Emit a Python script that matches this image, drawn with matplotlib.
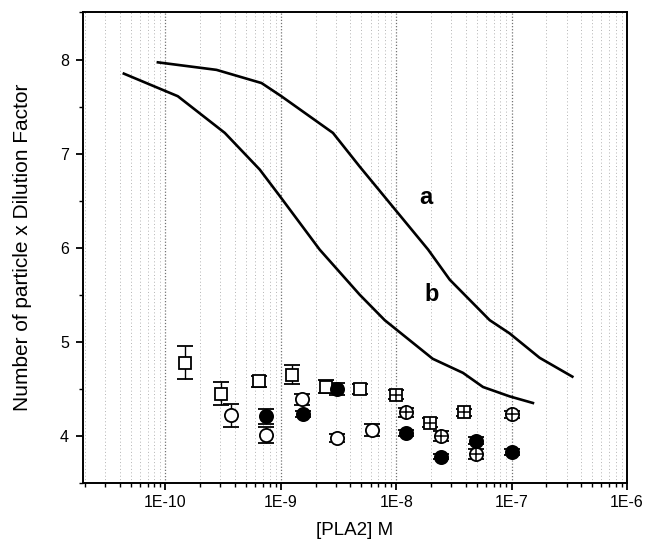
import numpy as np
import matplotlib
matplotlib.use("Agg")
import matplotlib.pyplot as plt
from matplotlib.ticker import FixedLocator, LogLocator, NullFormatter


# curve a / curve b (model lines)
curve_a_x = [8.6e-11, 2.77e-10, 6.8e-10, 1.01e-9, 2.83e-9, 4.84e-9, 1.89e-8,
             2.91e-8, 6.46e-8, 9.6e-8, 1.75e-7, 3.36e-7]
curve_a_y = [7.97, 7.89, 7.75, 7.61, 7.22, 6.86, 5.98, 5.66, 5.23, 5.09, 4.83, 4.63]

curve_b_x = [4.36e-11, 1.28e-10, 3.27e-10, 6.57e-10, 9.78e-10, 2.17e-9, 4.83e-9,
             7.95e-9, 2.07e-8, 3.79e-8, 5.65e-8, 9.63e-8, 1.53e-7]
curve_b_y = [7.85, 7.61, 7.22, 6.83, 6.55, 5.98, 5.50, 5.23, 4.82, 4.67, 4.52, 4.42, 4.35]

# measured points
sq_x = [1.47e-10, 3.05e-10, 6.44e-10, 1.24e-9, 2.48e-9, 4.9e-9]
sq_y = [4.78, 4.45, 4.58, 4.65, 4.525, 4.50]
sq_err = [0.18, 0.12, 0.06, 0.10, 0.07, 0.05]

sq_cross_x = [1.0e-8, 1.95e-8, 3.86e-8]
sq_cross_y = [4.44, 4.14, 4.25]
sq_cross_err = [0.05, 0.05, 0.04]

circ_x = [3.73e-10, 7.5e-10, 1.53e-9, 3.07e-9, 6.22e-9]
circ_y = [4.22, 4.01, 4.39, 3.98, 4.06]
circ_err = [0.12, 0.085, 0.06, 0.04, 0.065]

circ_cross_x = [1.22e-8, 2.43e-8, 4.9e-8, 1.0e-7]
circ_cross_y = [4.25, 4.00, 3.81, 4.23]
circ_cross_err = [0.05, 0.05, 0.05, 0.04]

filled_x = [7.5e-10, 1.55e-9, 3.07e-9, 1.22e-8, 2.45e-8, 4.89e-8, 1.0e-7]
filled_y = [4.21, 4.23, 4.50, 4.03, 3.78, 3.95, 3.83]
filled_err = [0.08, 0.03, 0.06, 0.03, 0.03, 0.04, 0.03]

xtick_values = [1e-10, 1e-9, 1e-8, 1e-7, 1e-6]
xtick_labels = ["1E-10", "1E-9", "1E-8", "1E-7", "1E-6"]
ytick_values = [4, 5, 6, 7, 8]


plt.rcParams.update({
    "font.family": ["Liberation Sans", "DejaVu Sans"],
    "axes.linewidth": 1.4,
})

fig = plt.figure(figsize=(6.49, 5.42), dpi=100)
ax = fig.add_axes([0.1279, 0.1089, 0.8382, 0.8681])

ax.set_xscale("log")
ax.set_xlim(1.93e-11, 1e-6)
ax.set_ylim(3.5, 8.5)

# dotted vertical grid, darker at decades
ax.xaxis.set_major_locator(FixedLocator(xtick_values))
ax.xaxis.set_minor_locator(LogLocator(base=10, subs=np.arange(2, 10), numticks=20))
ax.xaxis.set_minor_formatter(NullFormatter())
ax.set_xticklabels(xtick_labels)
ax.grid(axis="x", which="major", color="0.45", linestyle=(0, (1, 1.5)), linewidth=0.9)
ax.grid(axis="x", which="minor", color="0.7", linestyle=(0, (1, 2.5)), linewidth=0.7)
ax.set_axisbelow(True)

ax.set_yticks(ytick_values)
ax.set_yticks(np.arange(3.5, 8.6, 0.5), minor=True)

ax.tick_params(axis="both", which="major", direction="out", length=5, width=1.3,
               labelsize=11.5)
ax.tick_params(axis="x", which="major", pad=4)
ax.tick_params(axis="y", which="major", pad=5)
ax.tick_params(axis="both", which="minor", direction="out", length=3, width=1.0)

ax.plot(curve_a_x, curve_a_y, color="black", linewidth=1.9, zorder=3)
ax.plot(curve_b_x, curve_b_y, color="black", linewidth=1.9, zorder=3)

ax.text(1.82e-8, 6.53, "a", fontsize=17, fontweight="bold", ha="center", va="center")
ax.text(2.01e-8, 5.5, "b", fontsize=17, fontweight="bold", ha="center", va="center")

err_kw = dict(ecolor="black", elinewidth=1.0, capsize=6, capthick=1.0,
              linestyle="none", zorder=4)

ax.errorbar(sq_x, sq_y, yerr=sq_err, marker="s", markersize=8.5,
            markerfacecolor="white", markeredgecolor="black", markeredgewidth=1.3,
            **err_kw)
ax.errorbar(sq_cross_x, sq_cross_y, yerr=sq_cross_err, marker="s", markersize=8.5,
            markerfacecolor="white", markeredgecolor="black", markeredgewidth=1.3,
            **err_kw)
ax.plot(sq_cross_x, sq_cross_y, linestyle="none", marker="+", markersize=8.5,
        markeredgewidth=1.1, color="black", zorder=5)

ax.errorbar(circ_x, circ_y, yerr=circ_err, marker="o", markersize=9.5,
            markerfacecolor="white", markeredgecolor="black", markeredgewidth=1.3,
            **err_kw)
ax.errorbar(circ_cross_x, circ_cross_y, yerr=circ_cross_err, marker="o", markersize=9.5,
            markerfacecolor="white", markeredgecolor="black", markeredgewidth=1.3,
            **err_kw)
ax.plot(circ_cross_x, circ_cross_y, linestyle="none", marker="+", markersize=9.5,
        markeredgewidth=1.1, color="black", zorder=5)

ax.errorbar(filled_x, filled_y, yerr=filled_err, marker="o", markersize=9.5,
            markerfacecolor="black", markeredgecolor="black", markeredgewidth=1.3,
            **err_kw)

ax.set_xlabel("[PLA2] M", fontsize=13.5, labelpad=8)
ax.set_ylabel("Number of particle x Dilution Factor", fontsize=15, labelpad=20)

fig.savefig("out.png", dpi=100)
